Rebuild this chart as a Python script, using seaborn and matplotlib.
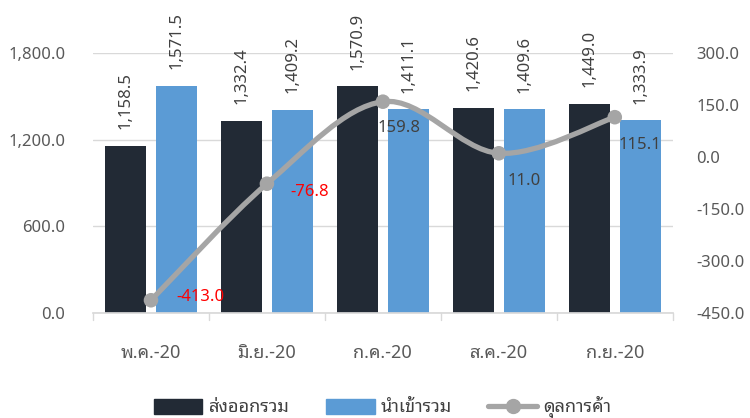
import numpy as np
import pandas as pd
import matplotlib
matplotlib.use("Agg")
import matplotlib.pyplot as plt
import seaborn as sns
from matplotlib.path import Path
from matplotlib.patches import PathPatch, Patch
from matplotlib.lines import Line2D

# Data
months = ["พ.ค.-20", "มิ.ย.-20", "ก.ค.-20", "ส.ค.-20", "ก.ย.-20"]
exports = [1158.5, 1332.4, 1570.9, 1420.6, 1449.0]
imports = [1571.5, 1409.2, 1411.1, 1409.6, 1333.9]
balance = [-413.0, -76.8, 159.8, 11.0, 115.1]
series_names = ["ส่งออกรวม", "นำเข้ารวม", "ดุลการค้า"]
left_ticks = [0, 600, 1200, 1800]
right_ticks = [-450, -300, -150, 0, 150, 300]

sns.set_theme(style="white")
THAI = ["Noto Sans Thai Looped", "DejaVu Sans"]
plt.rcParams["font.family"] = ["Noto Sans", "Noto Sans Thai Looped", "DejaVu Sans"]

DARK = "#222A35"
BLUE = "#5B9BD5"
GRAY = "#A5A5A5"
TXT = "#595959"

df = pd.DataFrame({
    "month": months * 2,
    "value": exports + imports,
    "series": [series_names[0]] * len(months) + [series_names[1]] * len(months),
})

fig = plt.figure(figsize=(7.5, 4.18), dpi=100)
ax = fig.add_axes([0.124, 0.251, 0.773, 0.622])

sns.barplot(data=df, x="month", y="value", hue="series", order=months,
            palette=[DARK, BLUE], saturation=1, width=0.88, gap=0.2,
            linewidth=0, legend=False, ax=ax)

ax.set_ylim(0, 1800)
ax.set_yticks(left_ticks)
ax.set_yticklabels([f"{v:,.1f}" for v in left_ticks], color=TXT, fontsize=12)
ax.set_xlim(-0.5, len(months) - 0.5)
ax.set_xticks(range(len(months)))
ax.set_xticklabels(months, color=TXT, fontsize=13, family=THAI)
ax.tick_params(axis="x", length=0, pad=22)
ax.tick_params(axis="y", length=0, pad=20)
ax.set_xlabel("")
ax.set_ylabel("")
ax.yaxis.grid(True, color="#D9D9D9", linewidth=1)
ax.set_axisbelow(True)
for s in ["top", "right", "left"]:
    ax.spines[s].set_visible(False)
ax.spines["bottom"].set_color("#D9D9D9")
# separator ticks between months
for b in np.arange(-0.5, len(months), 1.0):
    ax.plot([b, b], [0, -0.025], transform=ax.get_xaxis_transform(),
            color="#D9D9D9", lw=1, clip_on=False)

# bar value labels
for cont in ax.containers:
    for rect in cont:
        h = rect.get_height()
        ax.annotate(f"{h:,.1f}", (rect.get_x() + rect.get_width() / 2, h),
                    xytext=(0, 12), textcoords="offset points",
                    rotation=90, ha="center", va="bottom",
                    fontsize=12, color="#404040", annotation_clip=False)

# trade balance on secondary axis
ax2 = ax.twinx()
ax2.set_ylim(-450, 300)
ax2.set_yticks(right_ticks)
ax2.set_yticklabels([f"{v:,.1f}" for v in right_ticks], color=TXT, fontsize=12)
ax2.tick_params(axis="y", length=0, pad=17)
for s in ax2.spines.values():
    s.set_visible(False)

xs = np.arange(len(balance), dtype=float)
ys = np.array(balance)
# smoothed line drawn as bezier segments through the points
verts = [(xs[0], ys[0])]
codes = [Path.MOVETO]
n = len(xs)
for i in range(n - 1):
    p0 = np.array([xs[max(i - 1, 0)], ys[max(i - 1, 0)]])
    p1 = np.array([xs[i], ys[i]])
    p2 = np.array([xs[i + 1], ys[i + 1]])
    p3 = np.array([xs[min(i + 2, n - 1)], ys[min(i + 2, n - 1)]])
    c1 = p1 + (p2 - p0) / 6
    c2 = p2 - (p3 - p1) / 6
    verts += [tuple(c1), tuple(c2), tuple(p2)]
    codes += [Path.CURVE4] * 3
ax2.add_patch(PathPatch(Path(verts, codes), facecolor="none",
                        edgecolor=GRAY, lw=3.8, capstyle="round", zorder=3))
sns.scatterplot(x=xs, y=ys, color=GRAY, s=110, edgecolor="none",
                zorder=4, ax=ax2, legend=False)

label_offsets = [(18, 2), (17, -6), (-4, -19), (6, -20), (3, -20)]
for x, y, off in zip(xs, ys, label_offsets):
    ax2.annotate(f"{y:,.1f}", (x, y), xytext=off, textcoords="offset points",
                 ha="left", va="center", fontsize=12,
                 color="#FF0000" if y < 0 else "#404040")

handles = [Patch(color=DARK), Patch(color=BLUE),
           Line2D([], [], color=GRAY, lw=3.8, marker="o", markersize=10)]
fig.legend(handles, series_names, loc="lower center", ncol=3,
           bbox_to_anchor=(0.51, -0.04), frameon=False,
           prop={"family": THAI, "size": 13},
           handlelength=2.7, handleheight=0.9, handletextpad=0.35,
           columnspacing=2.0, labelcolor="#404040")

fig.savefig("out.png", dpi=100)
